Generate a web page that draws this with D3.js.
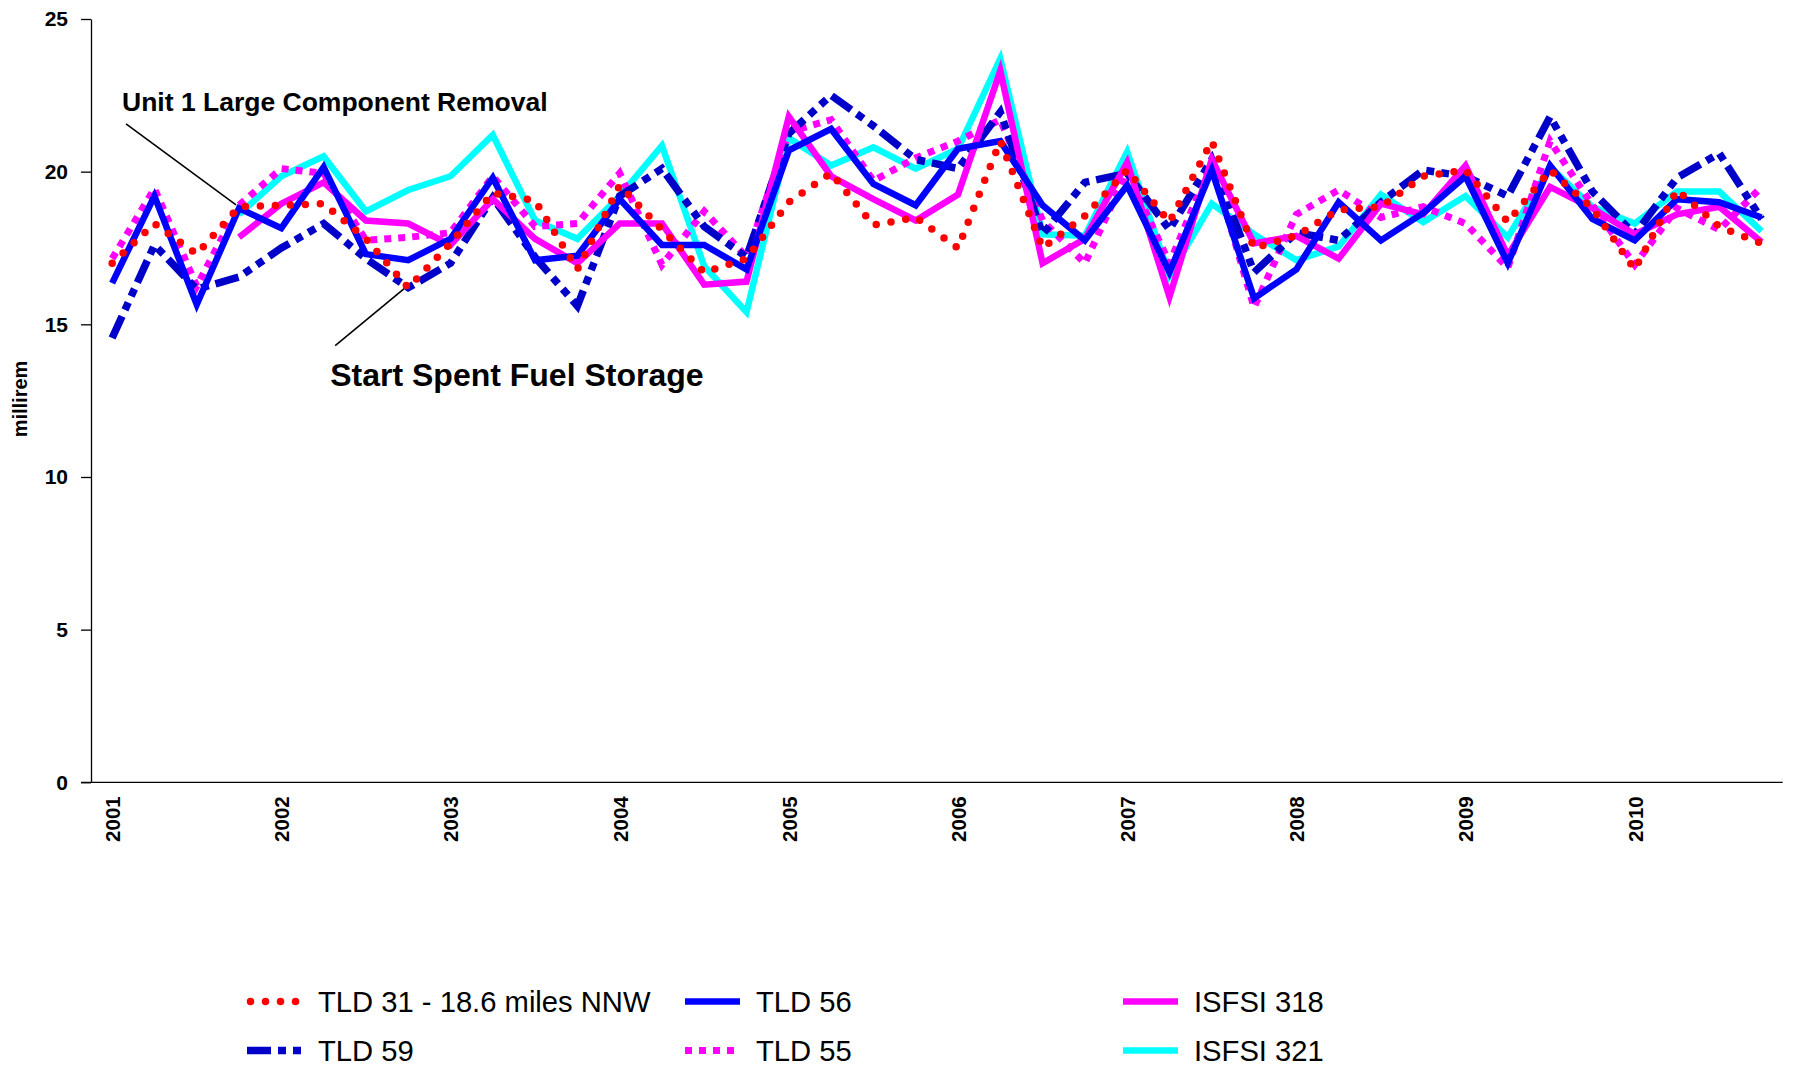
<!DOCTYPE html>
<html>
<head>
<meta charset="utf-8">
<script src="https://cdn.jsdelivr.net/npm/d3@7"></script>
<style>
  html, body { margin: 0; padding: 0; background: #fff; }
  svg { display: block; font-family: "Liberation Sans", Arial, sans-serif; }
</style>
</head>
<body>
<svg id="chart" width="1797" height="1070"></svg>
<script>
// ---------------- data ----------------
const years = [2001, 2002, 2003, 2004, 2005, 2006, 2007, 2008, 2009, 2010];
const quarters = ["Q1", "Q2", "Q3", "Q4"];
const categories = years.flatMap(y => quarters.map(q => `${y} ${q}`));
const yTicks = [0, 5, 10, 15, 20, 25];

const tld31 = [17.0,18.3,17.3,18.85,18.9,18.95,17.8,16.2,17.65,19.3,19.05,16.8,19.55,18.1,16.7,17.15,19.0,19.95,18.25,18.5,17.5,21.0,17.5,18.55,20.05,18.35,21.0,17.5,17.9,18.75,18.85,19.85,20.05,18.35,20.05,18.8,16.8,19.4,18.2,17.65];
const tld56 = [16.35,19.2,15.65,18.8,18.15,20.15,17.3,17.1,17.8,19.8,17.1,17.25,19.1,17.6,17.6,16.8,20.7,21.4,19.6,18.9,20.75,21.0,18.9,17.75,19.55,16.7,20.05,15.85,16.8,19.0,17.75,18.65,19.85,17.0,20.2,18.45,17.75,19.1,19.0,18.5];
const isfsi318 = [null,null,null,17.85,18.95,19.65,18.4,18.3,17.6,19.1,17.8,17.0,18.3,18.3,16.3,16.4,21.8,19.85,19.1,18.4,19.25,23.3,17.0,17.8,20.3,15.9,20.4,17.65,17.9,17.15,18.95,18.6,20.2,17.25,19.5,18.8,17.95,18.6,18.85,17.7];
const tld59 = [14.55,17.6,16.15,16.55,17.5,18.3,17.15,16.2,17.0,19.15,17.2,15.6,19.2,20.1,18.2,17.2,21.25,22.5,21.5,20.4,20.1,21.95,17.95,19.65,19.95,18.1,20.4,16.7,18.0,17.75,19.0,20.05,19.85,19.2,21.8,19.35,17.95,19.8,20.6,18.45];
const tld55 = [17.15,19.45,16.25,18.9,20.1,19.95,17.75,17.85,18.0,19.85,18.2,18.3,19.95,16.95,18.7,17.2,21.3,21.7,19.7,20.45,21.0,21.7,18.4,17.0,20.0,17.0,20.3,15.55,18.6,19.4,18.5,18.85,18.3,16.85,21.0,18.9,16.95,18.8,18.1,19.5];
const isfsi321 = [null,null,null,18.6,19.85,20.5,18.7,19.4,19.85,21.2,18.4,17.8,19.2,20.85,16.9,15.4,21.1,20.2,20.8,20.1,20.75,23.7,17.95,17.9,20.65,16.6,18.95,17.95,17.1,17.55,19.25,18.35,19.2,17.85,20.15,18.85,18.3,19.35,19.35,18.05];

const seriesNames = ["TLD 31 - 18.6 miles NNW", "TLD 56", "ISFSI 318", "TLD 59", "TLD 55", "ISFSI 321"];
const seriesValues = [tld31, tld56, isfsi318, tld59, tld55, isfsi321];

// ---------------- styles ----------------
const styles = {
  "TLD 31 - 18.6 miles NNW": { color: "#FF0000", width: 7.5, dash: "0 15", cap: "round" },
  "TLD 56":    { color: "#0000FF", width: 6.5, dash: null, cap: "butt" },
  "ISFSI 318": { color: "#FF00FF", width: 6.5, dash: null, cap: "butt" },
  "TLD 59":    { color: "#0000C8", width: 7.5, dash: "24 7 8 7 8 7", cap: "butt" },
  "TLD 55":    { color: "#FF00FF", width: 7, dash: "7 7", cap: "butt" },
  "ISFSI 321": { color: "#00FFFF", width: 6.5, dash: null, cap: "butt" }
};

// ---------------- layout ----------------
const svg = d3.select("#chart");
const plot = { left: 91, right: 1782.7, top: 19, bottom: 782.3 };

const x = d3.scalePoint().domain(categories).range([plot.left, plot.right]).padding(0.5);
const y = d3.scaleLinear().domain([0, 25]).range([plot.bottom, plot.top]);

// Y axis
const yAxis = svg.append("g")
  .attr("transform", `translate(${plot.left},0)`)
  .call(d3.axisLeft(y).tickValues(yTicks).tickSize(10).tickPadding(13).tickSizeOuter(0));
yAxis.select(".domain").attr("stroke", "#000").attr("stroke-width", 1.3);
yAxis.selectAll(".tick line").attr("stroke", "#000").attr("stroke-width", 1.3);
yAxis.selectAll(".tick text").attr("font-size", 21).attr("font-weight", "bold")
  .attr("fill", "#000").attr("font-family", "Liberation Sans, Arial, sans-serif");

// X axis
const yearTicks = categories.filter((c, i) => i % 4 === 0);
const xAxis = svg.append("g")
  .attr("transform", `translate(0,${plot.bottom})`)
  .call(d3.axisBottom(x).tickValues(yearTicks).tickSize(0).tickSizeOuter(0)
    .tickFormat(c => c.split(" ")[0]));
xAxis.select(".domain").attr("stroke", "#000").attr("stroke-width", 1.3)
  .attr("d", `M${plot.left - 10},0H${plot.right}`);
xAxis.selectAll(".tick text")
  .attr("font-size", 20.5).attr("font-weight", "bold").attr("fill", "#000")
  .attr("font-family", "Liberation Sans, Arial, sans-serif")
  .attr("transform", "rotate(-90)")
  .attr("text-anchor", "end")
  .attr("x", -14).attr("y", 0).attr("dy", "0.36em");

// Y axis title
svg.append("text")
  .attr("transform", `translate(20,399) rotate(-90)`)
  .attr("text-anchor", "middle").attr("dy", "0.36em")
  .attr("font-size", 20).attr("font-weight", "bold").attr("fill", "#000")
  .text("millirem");

// ---------------- lines ----------------
const line = d3.line()
  .defined(d => d.v !== null)
  .x(d => x(d.c))
  .y(d => y(d.v));

const linesG = svg.append("g");
// earlier series drawn on top -> draw in reverse order
seriesNames.slice().reverse().forEach(name => {
  const vals = seriesValues[seriesNames.indexOf(name)];
  const st = styles[name];
  const data = categories.map((c, i) => ({ c, v: vals[i] }));
  linesG.append("path")
    .datum(data)
    .attr("fill", "none")
    .attr("stroke", st.color)
    .attr("stroke-width", st.width)
    .attr("stroke-dasharray", st.dash)
    .attr("stroke-linecap", st.cap)
    .attr("stroke-linejoin", "miter")
    .attr("d", line);
});

// ---------------- annotations ----------------
const annG = svg.append("g");
const a1x = x(categories[3]), a1y = y(18.85);
annG.append("line")
  .attr("x1", a1x - 113).attr("y1", a1y - 83)
  .attr("x2", a1x - 3).attr("y2", a1y - 2)
  .attr("stroke", "#000").attr("stroke-width", 1.6);
annG.append("text")
  .attr("x", a1x - 117).attr("y", a1y - 96)
  .attr("font-size", 26.5).attr("font-weight", "bold").attr("fill", "#000")
  .text("Unit 1 Large Component Removal");

const a2x = x(categories[7]), a2y = y(16.2);
annG.append("line")
  .attr("x1", a2x - 73).attr("y1", a2y + 58)
  .attr("x2", a2x - 4).attr("y2", a2y + 1)
  .attr("stroke", "#000").attr("stroke-width", 1.6);
annG.append("text")
  .attr("x", a2x - 78).attr("y", a2y + 98)
  .attr("font-size", 32).attr("font-weight", "bold").attr("fill", "#000")
  .text("Start Spent Fuel Storage");

// ---------------- legend ----------------
const legendCols = [247, 685, 1123];
const legendRows = [1001.5, 1050.5];
const legendG = svg.append("g");
seriesNames.forEach((name, i) => {
  const col = i % 3, row = Math.floor(i / 3);
  const st = styles[name];
  const gx = legendCols[col], gy = legendRows[row];
  legendG.append("line")
    .attr("x1", gx + (st.cap === "round" ? 3.5 : 0)).attr("x2", gx + 55)
    .attr("y1", gy).attr("y2", gy)
    .attr("stroke", st.color)
    .attr("stroke-width", st.width)
    .attr("stroke-dasharray", st.dash)
    .attr("stroke-linecap", st.cap);
  legendG.append("text")
    .attr("x", gx + 71).attr("y", gy).attr("dy", "0.36em")
    .attr("font-size", 29.2).attr("fill", "#000")
    .text(name);
});
</script>
</body>
</html>
